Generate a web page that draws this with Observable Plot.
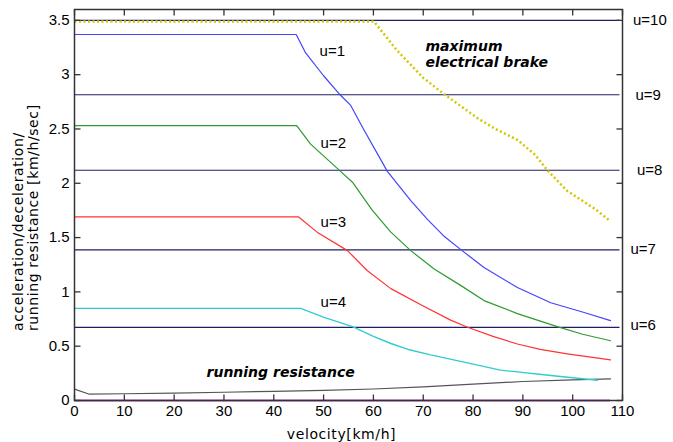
<!DOCTYPE html>
<html>
<head>
<meta charset="utf-8">
<script src="https://cdn.jsdelivr.net/npm/d3@7"></script>
<script src="https://cdn.jsdelivr.net/npm/@observablehq/plot@0.6"></script>
<style>
  html, body { margin: 0; padding: 0; background: #fff; }
  svg { display: block; }
</style>
</head>
<body>
<div id="chart"></div>
<script>
// ---- tick values ----
const xTicks = [0, 10, 20, 30, 40, 50, 60, 70, 80, 90, 100, 110];
const yTicks = [0, 0.5, 1, 1.5, 2, 2.5, 3, 3.5];

// ---- u=1 (blue) ----
const u1V = [0, 44.5, 46.4, 50, 53.4, 55.4, 58, 62.8, 67.5, 70.8, 74, 77.8, 82.2, 88.9, 95.6, 102.3, 107.6];
const u1A = [3.37, 3.37, 3.20, 2.99, 2.81, 2.72, 2.50, 2.11, 1.84, 1.67, 1.52, 1.38, 1.225, 1.04, 0.90, 0.81, 0.735];
// ---- u=2 (green) ----
const u2V = [0, 44.6, 47.4, 53.4, 55.8, 58.4, 59.8, 63.5, 67.5, 72.2, 77.5, 82.2, 88.9, 96.9, 102, 107.6];
const u2A = [2.53, 2.53, 2.36, 2.11, 2.01, 1.84, 1.75, 1.55, 1.38, 1.21, 1.06, 0.92, 0.80, 0.68, 0.61, 0.55];
// ---- u=3 (red) ----
const u3V = [0, 45, 48.7, 54.8, 58.8, 63.5, 70, 75.5, 78.9, 84, 88.9, 93.5, 98.9, 107.6];
const u3A = [1.69, 1.69, 1.55, 1.38, 1.195, 1.03, 0.87, 0.74, 0.674, 0.59, 0.52, 0.47, 0.43, 0.374];
// ---- u=4 (cyan) ----
const u4V = [0, 45.4, 50.1, 55.8, 60, 63.5, 67, 71.5, 77.5, 85.5, 95.6, 105];
const u4A = [0.848, 0.848, 0.766, 0.68, 0.59, 0.525, 0.47, 0.42, 0.36, 0.28, 0.23, 0.186];
// ---- maximum electrical brake (yellow dotted) ----
const brakeV = [0, 60.1, 64.8, 70, 74.2, 80.9, 84.5, 88.9, 92.5, 94.9, 98.9, 104.6, 107.6];
const brakeA = [3.49, 3.49, 3.22, 2.97, 2.82, 2.60, 2.50, 2.40, 2.26, 2.12, 1.93, 1.76, 1.65];
// ---- running resistance (gray) ----
const resV = [0, 3, 10, 20, 30, 40, 50, 60, 70, 80, 90, 100, 107.6];
const resA = [0.105, 0.058, 0.062, 0.068, 0.076, 0.084, 0.093, 0.106, 0.125, 0.15, 0.175, 0.19, 0.2];

// ---- brake notch levels (horizontal lines) ----
const notchLevels = [3.5, 2.815, 2.12, 1.386, 0.674];
const notchNames = ["u=10", "u=9", "u=8", "u=7", "u=6"];
const notchLabelV = [112.1, 112.6, 112.9, 111.6, 111.6];
const notchLabelA = [3.505, 2.815, 2.12, 1.39, 0.69];

// ---- power notch labels ----
const powerNames = ["u=1", "u=2", "u=3", "u=4"];
const powerLabelV = [49.2, 49.4, 49.4, 49.4];
const powerLabelA = [3.216, 2.37, 1.64, 0.905];

const xTitle = "velocity[km/h]";
const yTitle = "acceleration/deceleration/\nrunning resistance [km/h/sec]";
const brakeNote = "maximum\nelectrical brake";
const resNote = "running resistance";

const zip = (vs, as) => vs.map((v, i) => ({v, a: as[i]}));
const sans = "Liberation Sans, Arial, sans-serif";
const dejavu = "DejaVu Sans, sans-serif";
const tickColor = "#333";

const W = 673, H = 442, ML = 74, MR = 51, MT = 9, MB = 42, TICK = 6;
const xDomain = [0, 110], yDomain = [0, 3.6];
const frameW = W - ML - MR, frameH = H - MT - MB;
// tick length converted to data units so ticks go through the x/y scales
const tickDY = TICK / frameH * (yDomain[1] - yDomain[0]);
const tickDX = TICK / frameW * (xDomain[1] - xDomain[0]);

const tickSegs = [
  ...xTicks.map(v => ({x1: v, x2: v, y1: yDomain[0], y2: yDomain[0] + tickDY})),
  ...xTicks.map(v => ({x1: v, x2: v, y1: yDomain[1] - tickDY, y2: yDomain[1]})),
  ...yTicks.map(v => ({x1: xDomain[0], x2: xDomain[0] + tickDX, y1: v, y2: v})),
  ...yTicks.map(v => ({x1: xDomain[1] - tickDX, x2: xDomain[1], y1: v, y2: v}))
];

const chart = Plot.plot({
  width: W,
  height: H,
  marginLeft: ML,
  marginRight: MR,
  marginTop: MT,
  marginBottom: MB,
  x: {domain: xDomain},
  y: {domain: yDomain},
  style: {fontFamily: sans, fontSize: "14px", color: "#000", background: "#fff"},
  marks: [
    // tick labels
    Plot.axisX(xTicks, {anchor: "bottom", tickSize: 0, tickPadding: 5, label: null, fontSize: 15, tickFormat: d => String(d)}),
    Plot.axisY(yTicks, {anchor: "left", tickSize: 0, tickPadding: 5, label: null, fontSize: 15, tickFormat: d => String(d)}),
    // notch lines
    Plot.ruleY(notchLevels, {x1: 0, x2: 109.5, stroke: "#1f1f66", strokeWidth: 1.2}),
    // baseline
    Plot.ruleY([0], {x1: 0, x2: 107.6, stroke: "#cc55cc", strokeWidth: 2}),
    // curves
    Plot.line(zip(resV, resA), {x: "v", y: "a", stroke: "#555", strokeWidth: 1.2}),
    Plot.line(zip(u4V, u4A), {x: "v", y: "a", stroke: "#33cccc", strokeWidth: 1.4}),
    Plot.line(zip(u3V, u3A), {x: "v", y: "a", stroke: "#ff3333", strokeWidth: 1.2}),
    Plot.line(zip(u2V, u2A), {x: "v", y: "a", stroke: "#2e9a2e", strokeWidth: 1.2}),
    Plot.line(zip(u1V, u1A), {x: "v", y: "a", stroke: "#4444ff", strokeWidth: 1.2}),
    Plot.line(zip(brakeV, brakeA), {x: "v", y: "a", stroke: "#d2c800", strokeWidth: 2.5, strokeDasharray: "2,2.5", strokeLinecap: "butt"}),
    Plot.frame({stroke: "#333", strokeWidth: 1.5}),
    // inward ticks on all four sides
    Plot.link(tickSegs, {x1: "x1", y1: "y1", x2: "x2", y2: "y2", stroke: tickColor, strokeWidth: 1.3}),
    // labels
    Plot.text(powerNames, {x: (d, i) => powerLabelV[i], y: (d, i) => powerLabelA[i], text: d => d, textAnchor: "start", fontSize: 15}),
    Plot.text(notchNames, {x: (d, i) => notchLabelV[i], y: (d, i) => notchLabelA[i], text: d => d, textAnchor: "start", fontSize: 15}),
    Plot.text([brakeNote], {x: 70.45, y: 3.19, text: d => d, textAnchor: "start", lineAnchor: "middle", lineHeight: 1.15, fontSize: 14, fontFamily: dejavu, fontWeight: "bold", fontStyle: "italic"}),
    Plot.text([resNote], {x: 26.5, y: 0.26, text: d => d, textAnchor: "start", fontSize: 14, fontFamily: dejavu, fontWeight: "bold", fontStyle: "italic"}),
    // axis titles
    Plot.text([xTitle], {frameAnchor: "bottom", dy: 38, dx: -7, textAnchor: "middle", text: d => d, fontSize: 14, fontFamily: dejavu}),
    Plot.text([yTitle], {frameAnchor: "left", dx: -49, dy: 126, rotate: -90, textAnchor: "start", text: d => d, lineAnchor: "middle", lineHeight: 1.05, fontSize: 14, fontFamily: dejavu})
  ]
});

// widen the axis titles' letter spacing
d3.select(chart).selectAll("text")
  .filter(function () { const t = this.textContent; return t === xTitle || t.startsWith("acceleration"); })
  .style("letter-spacing", "0.6px");

document.getElementById("chart").appendChild(chart);
</script>
</body>
</html>
